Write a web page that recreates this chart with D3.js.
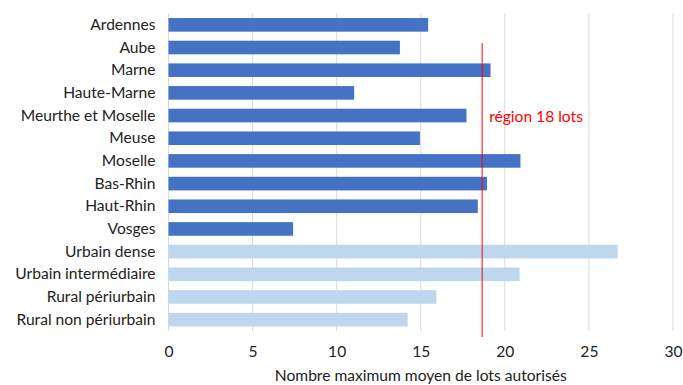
<!DOCTYPE html>
<html>
<head>
<meta charset="utf-8">
<script src="https://cdn.jsdelivr.net/npm/d3@7"></script>
<style>
  html, body { margin: 0; padding: 0; background: #fff; }
  svg { display: block; }
  text { font-family: Lato, "Open Sans", sans-serif; }
</style>
</head>
<body>
<svg id="chart" width="683" height="385"></svg>
<script>
// Average maximum number of lots authorised, by département and by type of area
const categories = [
  "Ardennes", "Aube", "Marne", "Haute-Marne", "Meurthe et Moselle", "Meuse",
  "Moselle", "Bas-Rhin", "Haut-Rhin", "Vosges",
  "Urbain dense", "Urbain intermédiaire", "Rural périurbain", "Rural non périurbain"
];
const values = [15.44, 13.76, 19.15, 11.04, 17.72, 14.95, 20.93, 18.94, 18.39, 7.41,
                26.71, 20.88, 15.93, 14.22];
const groups = ["dept", "dept", "dept", "dept", "dept", "dept", "dept", "dept", "dept", "dept",
                "zone", "zone", "zone", "zone"];
const xTicks = [0, 5, 10, 15, 20, 25, 30];
const regionAverage = 18.65;
const axisTitle = "Nombre maximum moyen de lots autorisés";

const colors = { dept: "#4472C4", zone: "#BDD7EE" };
const labelFont = "Lato, 'Open Sans', sans-serif";

const svg = d3.select("#chart");
const margin = { left: 168.5, right: 10, top: 13.5, bottom: 54 };
const W = 683, H = 385;

const x = d3.scaleLinear().domain([0, 30]).range([margin.left, W - margin.right]);
const y = d3.scaleBand().domain(categories).range([margin.top, H - margin.bottom])
  .paddingInner(0.4).paddingOuter(0.2);

// vertical gridlines
svg.append("g").selectAll("line").data(xTicks).join("line")
  .attr("x1", d => x(d)).attr("x2", d => x(d))
  .attr("y1", margin.top).attr("y2", H - margin.bottom)
  .attr("stroke", "#d9d9d9").attr("stroke-width", 1);

// bars
svg.append("g").selectAll("rect").data(categories).join("rect")
  .attr("x", x(0))
  .attr("y", d => y(d))
  .attr("width", (d, i) => x(values[i]) - x(0))
  .attr("height", y.bandwidth())
  .attr("fill", (d, i) => colors[groups[i]]);

// category labels
const yAxis = svg.append("g")
  .attr("transform", `translate(${x(0)},0)`)
  .call(d3.axisLeft(y).tickSize(0).tickPadding(13));
yAxis.select(".domain").remove();
yAxis.selectAll("text").attr("font-size", 15.6).attr("fill", "#222")
  .style("font-family", labelFont);

// value axis
const xAxis = svg.append("g")
  .attr("transform", `translate(0,${H - margin.bottom})`)
  .call(d3.axisBottom(x).tickValues(xTicks).tickSize(0).tickPadding(15));
xAxis.select(".domain").remove();
xAxis.selectAll("text").attr("font-size", 15.6).attr("fill", "#222")
  .style("font-family", labelFont);

// axis title
svg.append("text")
  .attr("x", (x(0) + x(30)) / 2).attr("y", 381)
  .attr("text-anchor", "middle")
  .attr("font-size", 15.6).attr("fill", "#222")
  .text(axisTitle);

// regional average marker
svg.append("line")
  .attr("x1", x(regionAverage)).attr("x2", x(regionAverage))
  .attr("y1", 43).attr("y2", 337)
  .attr("stroke", "#FF0000").attr("stroke-width", 1);

svg.append("text")
  .attr("x", x(regionAverage) + 7).attr("y", 122)
  .attr("font-size", 15.6).attr("fill", "#FF0000")
  .text(`région ${Math.floor(regionAverage)} lots`);
</script>
</body>
</html>
